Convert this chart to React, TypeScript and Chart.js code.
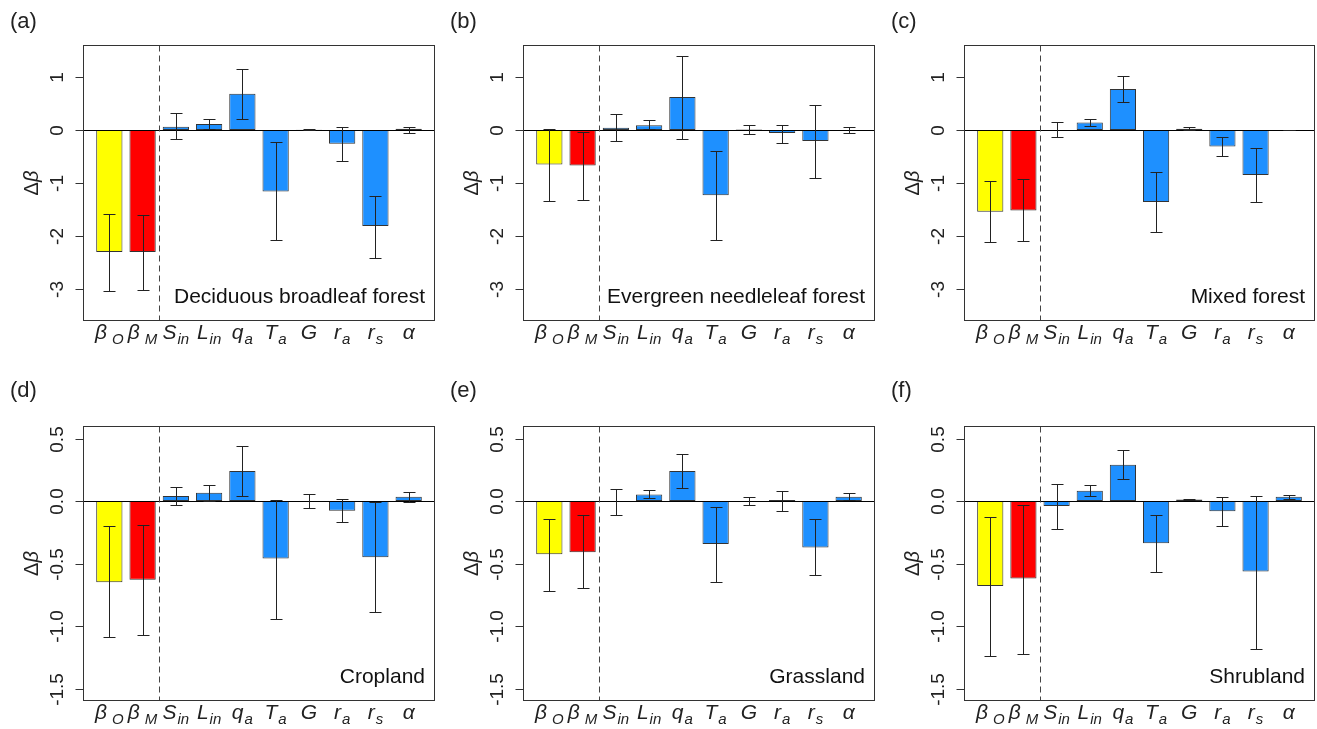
import React, { useEffect, useRef } from "react";
import { Chart, registerables } from "chart.js";

Chart.register(...registerables);

// ---------------- data ----------------
const categories = ["βO", "βM", "Sin", "Lin", "qa", "Ta", "G", "ra", "rs", "α"];
const labelMain = ["β", "β", "S", "L", "q", "T", "G", "r", "r", "α"];
const labelSub = ["O", "M", "in", "in", "a", "a", "", "a", "s", ""];
const barColors = ["#FFFF00", "#FF0000", "#1E90FF", "#1E90FF", "#1E90FF", "#1E90FF", "#1E90FF", "#1E90FF", "#1E90FF", "#1E90FF"];

const panelLabels = ["(a)", "(b)", "(c)", "(d)", "(e)", "(f)"];
const landCovers = [
  "Deciduous broadleaf forest",
  "Evergreen needleleaf forest",
  "Mixed forest",
  "Cropland",
  "Grassland",
  "Shrubland",
];

const dbfValues = [-2.30, -2.30, 0.06, 0.11, 0.68, -1.16, 0.005, -0.26, -1.81, 0.02];
const dbfLow = [-3.03, -3.01, -0.18, 0.01, 0.21, -2.08, -0.01, -0.59, -2.41, -0.05];
const dbfHigh = [-1.59, -1.61, 0.31, 0.20, 1.14, -0.23, 0.01, 0.06, -1.25, 0.06];

const enfValues = [-0.65, -0.67, 0.04, 0.09, 0.62, -1.23, 0.01, -0.06, -0.21, 0.0];
const enfLow = [-1.33, -1.32, -0.21, 0.02, -0.18, -2.08, -0.08, -0.25, -0.91, -0.06];
const enfHigh = [0.01, -0.04, 0.30, 0.18, 1.40, -0.39, 0.10, 0.09, 0.47, 0.06];

const mfValues = [-1.54, -1.52, 0.0, 0.14, 0.77, -1.36, 0.02, -0.31, -0.85, -0.005];
const mfLow = [-2.11, -2.09, -0.13, 0.08, 0.52, -1.93, 0.0, -0.49, -1.36, -0.01];
const mfHigh = [-0.97, -0.93, 0.14, 0.21, 1.01, -0.80, 0.05, -0.13, -0.34, 0.005];

const croValues = [-0.65, -0.63, 0.04, 0.066, 0.24, -0.46, 0.0, -0.077, -0.45, 0.035];
const croLow = [-1.09, -1.07, -0.03, 0.0, 0.04, -0.94, -0.053, -0.17, -0.89, -0.008];
const croHigh = [-0.20, -0.19, 0.11, 0.13, 0.44, 0.01, 0.053, 0.02, -0.008, 0.074];

const graValues = [-0.425, -0.41, -0.008, 0.053, 0.24, -0.343, 0.0, 0.008, -0.372, 0.035];
const graLow = [-0.72, -0.70, -0.11, 0.027, 0.104, -0.645, -0.032, -0.077, -0.59, 0.008];
const graHigh = [-0.14, -0.11, 0.10, 0.09, 0.377, -0.048, 0.035, 0.082, -0.146, 0.061];

const shrValues = [-0.68, -0.62, -0.04, 0.082, 0.29, -0.337, 0.013, -0.082, -0.563, 0.035];
const shrLow = [-1.24, -1.22, -0.22, 0.04, 0.18, -0.566, 0.005, -0.20, -1.18, 0.013];
const shrHigh = [-0.125, -0.03, 0.135, 0.125, 0.41, -0.11, 0.019, 0.035, 0.04, 0.05];

const topTicks = [1, 0, -1, -2, -3];
const topTickLabels = ["1", "0", "-1", "-2", "-3"];
const bottomTicks = [0.5, 0, -0.5, -1, -1.5];
const bottomTickLabels = ["0.5", "0.0", "-0.5", "-1.0", "-1.5"];

const topRange = [-3.6, 1.6];
const bottomRange = [-1.6, 0.6];

// bar positions in barplot units (width 1, space 0.2)
const barPositions = categories.map((_, i) => 0.7 + 1.2 * i);
const separatorPosition = 2.5;

const panels = [
  { values: dbfValues, low: dbfLow, high: dbfHigh, ticks: topTicks, tickLabels: topTickLabels, range: topRange },
  { values: enfValues, low: enfLow, high: enfHigh, ticks: topTicks, tickLabels: topTickLabels, range: topRange },
  { values: mfValues, low: mfLow, high: mfHigh, ticks: topTicks, tickLabels: topTickLabels, range: topRange },
  { values: croValues, low: croLow, high: croHigh, ticks: bottomTicks, tickLabels: bottomTickLabels, range: bottomRange },
  { values: graValues, low: graLow, high: graHigh, ticks: bottomTicks, tickLabels: bottomTickLabels, range: bottomRange },
  { values: shrValues, low: shrLow, high: shrHigh, ticks: bottomTicks, tickLabels: bottomTickLabels, range: bottomRange },
];

// ---------------- layout ----------------
const cellLeft = [0, 440, 877];
const cellWidth = [440, 437, 440];
const cellTop = [0, 365];
const cellHeight = [365, 364];
const boxLeft = [83, 523, 964];
const boxRight = [435, 875, 1315];
const boxTop = [45, 426];
const boxBottom = [321, 701];

const FONT = "'Liberation Sans', Arial, Helvetica, sans-serif";
const AXIS_COLOR = "#333333";

function Panel({ idx }: { idx: number }) {
  const ref = useRef<HTMLCanvasElement | null>(null);
  const col = idx % 3;
  const row = Math.floor(idx / 3);
  const w = cellWidth[col];
  const h = cellHeight[row];

  useEffect(() => {
    const canvas = ref.current;
    if (!canvas) return;
    const p = panels[idx];
    const padding = {
      left: boxLeft[col] - cellLeft[col],
      right: cellLeft[col] + w - boxRight[col],
      top: boxTop[row] - cellTop[row],
      bottom: cellTop[row] + h - boxBottom[row],
    };

    const overlay = {
      id: "overlay",
      afterDatasetsDraw(chart: any) {
        const ctx = chart.ctx as CanvasRenderingContext2D;
        const area = chart.chartArea;
        const xs = chart.scales.x;
        const ys = chart.scales.y;
        const L = Math.round(area.left) + 0.5;
        const R = Math.round(area.right) - 0.5;
        const T = Math.round(area.top) + 0.5;
        const B = Math.round(area.bottom) - 0.5;
        ctx.save();

        // zero line
        const y0 = Math.round(ys.getPixelForValue(0)) + 0.5;
        ctx.strokeStyle = "#000";
        ctx.lineWidth = 1;
        ctx.beginPath();
        ctx.moveTo(L, y0);
        ctx.lineTo(R, y0);
        ctx.stroke();

        // dashed separator
        const xd = Math.round(xs.getPixelForValue(separatorPosition)) + 0.5;
        ctx.strokeStyle = "#444";
        ctx.setLineDash([6, 4]);
        ctx.beginPath();
        ctx.moveTo(xd, T);
        ctx.lineTo(xd, B);
        ctx.stroke();
        ctx.setLineDash([]);

        // error bars
        ctx.strokeStyle = "#222";
        ctx.lineWidth = 1;
        for (let i = 0; i < p.values.length; i++) {
          const x = Math.round(xs.getPixelForValue(barPositions[i])) + 0.5;
          const yl = Math.round(ys.getPixelForValue(p.low[i])) + 0.5;
          const yh = Math.round(ys.getPixelForValue(p.high[i])) + 0.5;
          ctx.beginPath();
          ctx.moveTo(x, yl);
          ctx.lineTo(x, yh);
          ctx.moveTo(x - 6, yl);
          ctx.lineTo(x + 6, yl);
          ctx.moveTo(x - 6, yh);
          ctx.lineTo(x + 6, yh);
          ctx.stroke();
        }

        // box
        ctx.strokeStyle = AXIS_COLOR;
        ctx.strokeRect(L, T, R - L, B - T);

        // y ticks and labels
        ctx.fillStyle = "#222";
        ctx.font = `19px ${FONT}`;
        for (let i = 0; i < p.ticks.length; i++) {
          const y = Math.round(ys.getPixelForValue(p.ticks[i])) + 0.5;
          ctx.beginPath();
          ctx.moveTo(L, y);
          ctx.lineTo(L - 8, y);
          ctx.stroke();
          ctx.save();
          ctx.translate(area.left - 25, y);
          ctx.rotate(-Math.PI / 2);
          ctx.textAlign = "center";
          ctx.textBaseline = "middle";
          ctx.fillText(p.tickLabels[i], 0, 0);
          ctx.restore();
        }

        // y title
        ctx.save();
        ctx.translate(area.left - 51, (area.top + area.bottom) / 2);
        ctx.rotate(-Math.PI / 2);
        ctx.textBaseline = "middle";
        ctx.font = `20px ${FONT}`;
        const wD = ctx.measureText("Δ").width;
        ctx.font = `italic 20px ${FONT}`;
        const wB = ctx.measureText("β").width;
        ctx.textAlign = "left";
        ctx.font = `20px ${FONT}`;
        ctx.fillText("Δ", -(wD + wB) / 2, 0);
        ctx.font = `italic 20px ${FONT}`;
        ctx.fillText("β", -(wD + wB) / 2 + wD, 0);
        ctx.restore();

        // x labels
        const baseY = area.bottom + 18;
        ctx.fillStyle = "#222";
        ctx.textAlign = "left";
        ctx.textBaseline = "alphabetic";
        for (let i = 0; i < categories.length; i++) {
          const cx = xs.getPixelForValue(barPositions[i]);
          const main = labelMain[i];
          const sub = labelSub[i];
          ctx.font = `italic 21px ${FONT}`;
          const wm = ctx.measureText(main).width;
          ctx.font = `italic 15px ${FONT}`;
          const ws = sub ? ctx.measureText(sub).width : 0;
          const gap = sub ? (main === "β" ? 5 : 1) : 0;
          const total = wm + gap + ws;
          const sx = cx - total / 2;
          ctx.font = `italic 21px ${FONT}`;
          ctx.fillText(main, sx, baseY);
          if (sub) {
            ctx.font = `italic 15px ${FONT}`;
            ctx.fillText(sub, sx + wm + gap, baseY + 5);
          }
        }

        // land cover name
        ctx.font = `21px ${FONT}`;
        ctx.textAlign = "right";
        ctx.fillStyle = "#111";
        ctx.fillText(landCovers[idx], area.right - 10, area.bottom - 18);

        // panel label
        ctx.font = `22px ${FONT}`;
        ctx.textAlign = "left";
        ctx.textBaseline = "middle";
        ctx.fillStyle = "#222";
        ctx.fillText(panelLabels[idx], area.left - 73, area.top - 23 - (row === 1 ? 12 : 0));

        ctx.restore();
      },
    };

    const chart = new Chart(canvas, {
      type: "bar",
      data: {
        datasets: [
          {
            data: p.values.map((v, i) => ({ x: barPositions[i], y: v })),
            backgroundColor: barColors,
            borderColor: "#333333",
            borderWidth: 1,
            borderSkipped: false,
            categoryPercentage: 1,
            barPercentage: 0.79,
          } as any,
        ],
      },
      options: {
        animation: false,
        responsive: false,
        events: [],
        layout: { padding },
        plugins: {
          legend: { display: false },
          tooltip: { enabled: false },
        },
        scales: {
          x: { type: "linear", display: false, min: -0.25, max: 12.45, offset: false },
          y: { type: "linear", display: false, min: p.range[0], max: p.range[1] },
        },
      } as any,
      plugins: [overlay],
    });
    return () => chart.destroy();
  }, [idx]);

  return (
    <canvas
      ref={ref}
      width={w}
      height={h}
      style={{ position: "absolute", left: cellLeft[col], top: cellTop[row], width: w, height: h }}
    />
  );
}

export default function App() {
  return (
    <div style={{ position: "absolute", left: 0, top: 0, width: 1317, height: 729, background: "#fff" }}>
      {panels.map((_, i) => (
        <Panel key={i} idx={i} />
      ))}
    </div>
  );
}
